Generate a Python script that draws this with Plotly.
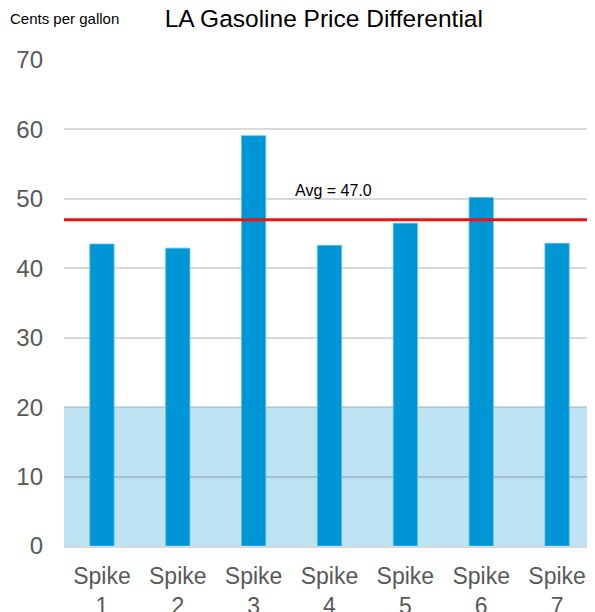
import plotly.graph_objects as go

categories = ["Spike<br>1", "Spike<br>2", "Spike<br>3", "Spike<br>4", "Spike<br>5", "Spike<br>6", "Spike<br>7"]
values = [43.5, 42.9, 59.1, 43.3, 46.5, 50.2, 43.6]
avg_value = 47.0
band_range = [0, 20]
y_ticks = [0, 10, 20, 30, 40, 50, 60, 70]

FONT = "Arial, Liberation Sans, sans-serif"

fig = go.Figure()
fig.add_trace(go.Bar(
    x=categories, y=values, width=0.32,
    marker=dict(color="#0096D6", line=dict(color="#5CC0EA", width=0.8)),
))

fig.add_shape(type="rect", xref="paper", yref="y", x0=0, x1=1,
              y0=band_range[0], y1=band_range[1],
              fillcolor="#BEE3F3", line=dict(width=0), layer="below")
fig.add_shape(type="line", xref="paper", yref="y", x0=0, x1=1,
              y0=avg_value, y1=avg_value,
              line=dict(color="#EE1111", width=3))
fig.add_annotation(xref="paper", yref="y", x=0.508, y=avg_value, yshift=29,
                   text=f"Avg = {avg_value:.1f}", showarrow=False,
                   font=dict(size=16, color="#000000", family=FONT))

fig.add_annotation(xref="paper", yref="paper", x=-0.1055, y=1.086,
                   xanchor="left", yanchor="middle",
                   text="Cents per gallon", showarrow=False,
                   font=dict(size=15, color="#000000", family=FONT))

fig.update_layout(
    width=587, height=604,
    margin=dict(l=56, r=0, t=52, b=66, autoexpand=False),
    plot_bgcolor="white", paper_bgcolor="white",
    showlegend=False,
    title=dict(text="LA Gasoline Price Differential", x=0.538, xanchor="center",
               y=0.983, yanchor="middle",
               font=dict(size=24.5, color="#000000", family=FONT)),
    font=dict(family=FONT, color="#595959"),
)
fig.update_yaxes(range=[0, 70], tickvals=y_ticks, showgrid=True, automargin=False,
                 gridcolor="rgba(0,0,0,0.15)", gridwidth=1.5,
                 zeroline=False, showline=False,
                 tickfont=dict(size=24, color="#595959"), ticklabelstandoff=20)
fig.update_xaxes(showgrid=False, showline=True, linecolor="#D9D9D9", linewidth=1.5,
                 automargin=False,
                 tickfont=dict(size=23, color="#595959"), ticklabelstandoff=9)

fig.write_html("out.html")
